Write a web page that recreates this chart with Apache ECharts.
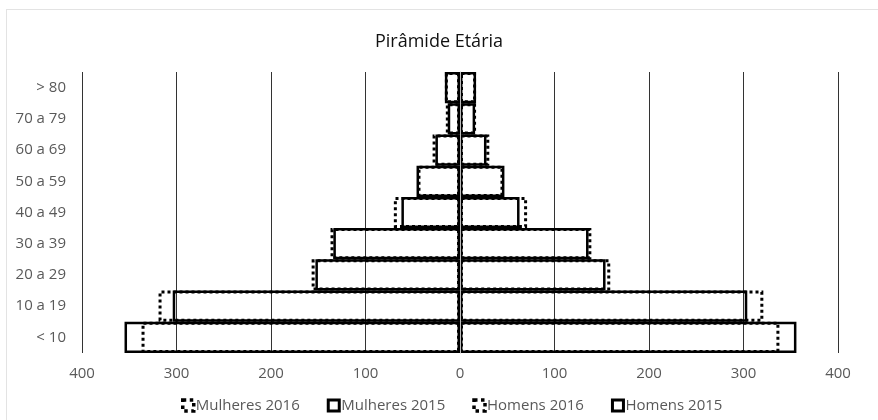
<!DOCTYPE html>
<html>
<head>
<meta charset="utf-8">
<script src="https://cdn.jsdelivr.net/npm/echarts@6/dist/echarts.min.js"></script>
<style>
  html, body { margin: 0; padding: 0; background: #fff; }
  #main { width: 878px; height: 420px; }
</style>
</head>
<body>
<div id="main"></div>
<script>
// faixas etárias (de baixo para cima)
const categories = ['< 10', '10 a 19', '20 a 29', '30 a 39', '40 a 49', '50 a 59', '60 a 69', '70 a 79', '> 80'];
const mulheres2016 = [337, 319, 157, 137, 70, 45, 29, 15, 16];
const mulheres2015 = [355, 304, 153, 134, 62, 46, 26, 13, 16];
const homens2016 = [338, 321, 159, 139, 71, 46, 31, 17, 17];
const homens2015 = [356, 304, 154, 136, 63, 47, 28, 16, 17];
const xTicks = [-400, -300, -200, -100, 0, 100, 200, 300, 400];

const font = "'Open Sans', 'Noto Sans', sans-serif";
const chart = echarts.init(document.getElementById('main'));

// estilo do contorno (sem preenchimento)
const outline = (dotted) => ({
  color: 'rgba(255,255,255,0)',
  borderColor: '#000',
  borderWidth: dotted ? 3 : 2.5,
  borderType: dotted ? 'dotted' : 'solid',
});

const makeSeries = (name, values, dotted, negative) => ({
  name,
  type: 'bar',
  data: values.map((v) => (negative ? -v : v)),
  barGap: '-100%',
  barCategoryGap: '0%',
  itemStyle: outline(dotted),
  emphasis: { disabled: true },
  z: dotted ? 3 : 2,
});

const option = {
  animation: false,
  textStyle: { fontFamily: font },
  title: {
    text: 'Pirâmide Etária',
    left: 'center',
    top: 28,
    textStyle: { fontFamily: font, fontSize: 18, fontWeight: 'normal', color: '#111' },
  },
  legend: {
    bottom: 2,
    left: 176,
    itemWidth: 11,
    itemHeight: 11,
    itemGap: 27,
    icon: 'rect',
    textStyle: { fontFamily: font, fontSize: 15, color: '#595959', padding: [0, 0, 0, -3] },
    data: [
      { name: 'Mulheres 2016', itemStyle: { ...outline(true), borderWidth: 3.5 } },
      { name: 'Mulheres 2015', itemStyle: { ...outline(false), borderWidth: 3 } },
      { name: 'Homens 2016', itemStyle: { ...outline(true), borderWidth: 3.5 } },
      { name: 'Homens 2015', itemStyle: { ...outline(false), borderWidth: 3 } },
    ],
  },
  grid: { left: 82, right: 40, top: 72, bottom: 67 },
  xAxis: {
    type: 'value',
    min: xTicks[0],
    max: xTicks[xTicks.length - 1],
    interval: 100,
    axisLine: { show: false },
    axisTick: { show: false },
    splitLine: { show: true, lineStyle: { color: '#333', width: 1 } },
    axisLabel: {
      color: '#595959',
      fontSize: 15,
      fontFamily: font,
      margin: 13,
      formatter: (v) => String(Math.abs(v)),
    },
  },
  yAxis: {
    type: 'category',
    data: categories,
    axisTick: { show: false },
    axisLine: { show: true, onZero: true, lineStyle: { color: '#bdbdbd', width: 1 } },
    axisLabel: { color: '#595959', fontSize: 15, fontFamily: font, margin: 16 },
    z: 5,
  },
  graphic: [
    { type: 'line', shape: { x1: 6, y1: 9.5, x2: 878, y2: 9.5 }, style: { stroke: '#e3e3e3', lineWidth: 1 } },
    { type: 'line', shape: { x1: 6.5, y1: 9, x2: 6.5, y2: 420 }, style: { stroke: '#e3e3e3', lineWidth: 1 } },
  ],
  series: [
    makeSeries('Mulheres 2016', mulheres2016, true, true),
    makeSeries('Mulheres 2015', mulheres2015, false, true),
    makeSeries('Homens 2016', homens2016, true, false),
    makeSeries('Homens 2015', homens2015, false, false),
  ],
};
chart.setOption(option);
</script>
</body>
</html>
